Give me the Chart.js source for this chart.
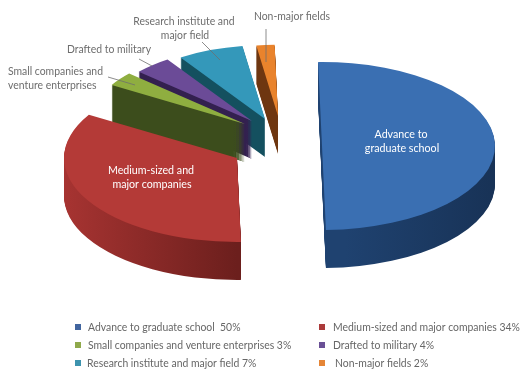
<!DOCTYPE html>
<html>
<head>
<meta charset="utf-8">
<style>html,body{margin:0;padding:0;background:#fff}canvas{display:block}</style>
<script src="https://cdn.jsdelivr.net/npm/chart.js@4"></script>
</head>
<body>
<canvas id="c" width="531" height="381"></canvas>
<script>
const categories = ['Advance to graduate school','Medium-sized and major companies','Small companies and venture enterprises','Drafted to military','Research institute and major field','Non-major fields'];
const shares = [50,34,3,4,7,2];
const legendTexts = ['Advance to graduate school  50%','Medium-sized and major companies 34%','Small companies and venture enterprises 3%','Drafted to military 4%','Research institute and major field 7%','Non-major fields 2%'];
const topColors = ['#3a6fb2','#b43a37','#8fae40','#6b4b97','#3498ba','#e9832c'];
const sideLeft  = ['#1f4270','#a83432','#3c4d1c','#33204f','#14505f','#6e3610'];
const sideRight = ['#152c4c','#6c1f1d','#3c4d1c','#33204f','#14505f','#6e3610'];
const legendSwatch = ['#41659f','#ab3a3a','#8fa94b','#6a5096','#3d93ae','#e58536'];
const explodeX = [44,-41,-33,-26,-13,0];
const explodeY = [0,12,-22,-25,-27,-30];
const radiusScale = [1,1,.9,.88,.88,.85];
const squash = 0.485, depth = 38, condense = 0.905;
const paintOrder = [5,4,3,2,1,0];

const font = s => s + 'px Lato, sans-serif';
function text(ctx, t, x, y, col, size, align){
  ctx.font = font(size); ctx.fillStyle = col; ctx.textAlign = align || 'left'; ctx.textBaseline = 'alphabetic';
  ctx.fillText(t, x, y, ctx.measureText(t).width * condense);
}
const pie3d = {
  id:'pie3d',
  beforeDatasetsDraw(chart){
    const ctx = chart.ctx, meta = chart.getDatasetMeta(0), arcs = meta.data;
    const place = (arc, i, dy) => {
      ctx.translate(explodeX[i], explodeY[i] + dy);
      ctx.translate(arc.x, arc.y); ctx.scale(1, squash); ctx.translate(-arc.x, -arc.y);
    };
    paintOrder.forEach(i => {
      const arc = arcs[i], base = arc.options, r0 = arc.outerRadius;
      arc.outerRadius = r0 * radiusScale[i];
      const g = ctx.createLinearGradient(arc.x - r0 - 60, 0, arc.x + r0 + 60, 0);
      const lo = i===1 ? 0.12 : 0, hi = i===1 ? 0.5 : 1;
      if (i===0){ g.addColorStop(0.55, sideLeft[i]); g.addColorStop(1, sideRight[i]); }
      else { g.addColorStop(lo, sideLeft[i]); g.addColorStop(hi, sideRight[i]); }
      arc.options = Object.assign(Object.create(base), {backgroundColor:g, borderWidth:0});
      for (let d = depth; d >= 1; d--) {
        ctx.save(); place(arc, i, d); arc.draw(ctx); ctx.restore();
      }
      arc.options = base;
      ctx.save(); place(arc, i, 0); arc.draw(ctx); ctx.restore();
      arc.outerRadius = r0;
    });
    return false;
  },
  afterDraw(chart){
    const ctx = chart.ctx;
    ctx.save();
    ctx.strokeStyle = '#6e6e6e'; ctx.lineWidth = 0.8;
    [[202,42,220,60],[139,59,152,66],[108,77,135,85],[266,29,266,62]].forEach(l=>{
      ctx.beginPath(); ctx.moveTo(l[0],l[1]); ctx.lineTo(l[2],l[3]); ctx.stroke();
    });
    const grey = '#6d6d6d';
    text(ctx,'Research institute and',184,25,grey,11.5,'center');
    text(ctx,'major field',185,39,grey,11.5,'center');
    text(ctx,'Drafted to military',109,53,grey,11.5,'center');
    text(ctx,'Small companies and',8,75,grey,11.5);
    text(ctx,'venture enterprises',8,89,grey,11.5);
    text(ctx,'Non-major fields',292,20,grey,11.5,'center');
    text(ctx,'Advance to',401,138,'#fff',11.8,'center');
    text(ctx,'graduate school',402,152,'#fff',11.8,'center');
    text(ctx,'Medium-sized and',151,174,'#fff',11.8,'center');
    text(ctx,'major companies',152,188,'#fff',11.8,'center');
    const rows = [331,349,367], swX = [75,319], txX = [[88,333],[88,333],[87,335]];
    legendTexts.forEach((t,i)=>{
      const row = Math.floor(i/2), col = i%2;
      ctx.fillStyle = legendSwatch[i];
      ctx.fillRect(swX[col], rows[row]-7, 6, 6);
      text(ctx,t,txX[row][col],rows[row],'#666',11.5);
    });
    ctx.restore();
  }
};
new Chart(document.getElementById('c'),{
  type:'pie',
  data:{labels:categories,datasets:[{data:shares,backgroundColor:topColors,borderWidth:0}]},
  options:{
    responsive:false,animation:false,rotation:-1.3,radius:173,
    layout:{padding:{left:25,right:0,top:0,bottom:89}},
    plugins:{legend:{display:false},tooltip:{enabled:false}}
  },
  plugins:[pie3d]
});
</script>
</body>
</html>
